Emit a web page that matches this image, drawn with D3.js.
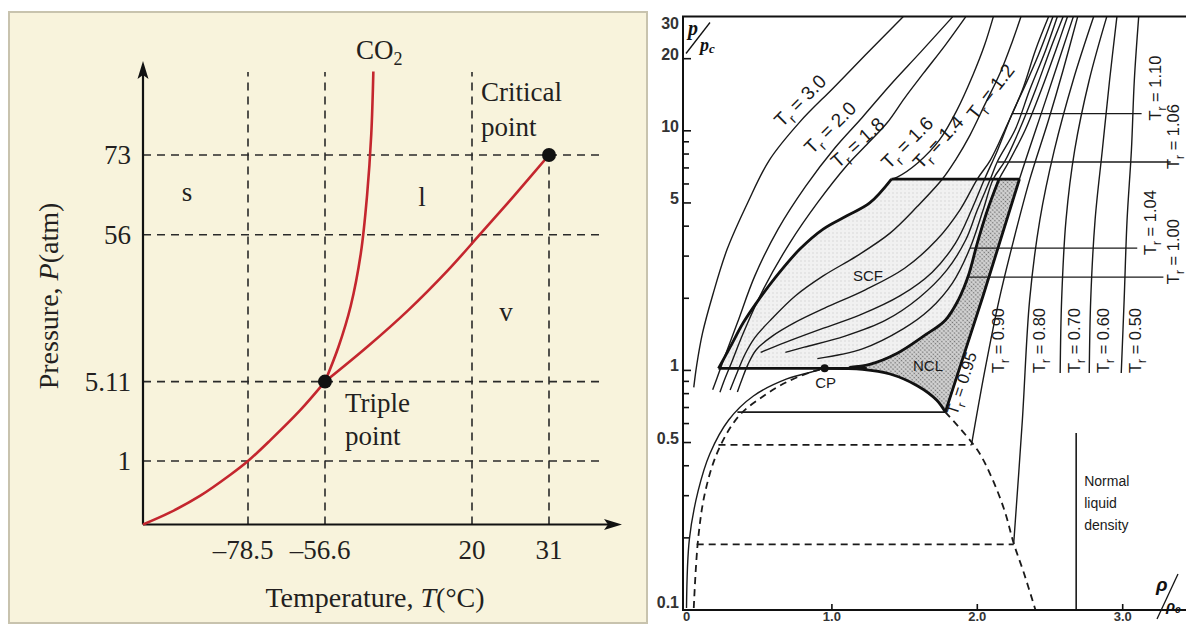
<!DOCTYPE html>
<html>
<head>
<meta charset="utf-8">
<script src="https://cdn.jsdelivr.net/npm/d3@7"></script>
<style>
  body { margin: 0; background: #fff; }
  svg { display: block; }
</style>
</head>
<body>
<div id="chart"></div>
<script>
// ---------- left panel: CO2 phase diagram (schematic axes) ----------
const tempTicks = [-78.5, -56.6, 20, 31];
const tempLabels = ["\u201378.5", "\u201356.6", "20", "31"];
const presTicks = [1, 5.11, 56, 73];
const presLabels = ["1", "5.11", "56", "73"];

const sublimT = [-120, -109.3, -97.5, -85.6, -78.5, -72.2, -63.7, -56.6];
const sublimP = [0, 0.19, 0.45, 0.78, 1, 2.07, 3.62, 5.11];
const meltT = [-56.6, -49.6, -43.2, -37.9, -34.7, -32.5, -31.4];
const meltP = [5.11, 17.1, 31.3, 49.7, 64.3, 76.7, 88.1];
const vapT = [-56.6, -34.7, -13.3, 7.9, 21.1, 26.0, 31];
const vapP = [5.11, 17.1, 29.8, 44.0, 56, 64.3, 73];
const triplePoint = [-56.6, 5.11];
const criticalPoint = [31, 73];

// ---------- right panel: reduced pressure vs reduced density ----------
const pLabelTicks = [0.1, 0.5, 1, 5, 10, 20, 30];
const pMajorTicks = [0.5, 1, 5, 10, 20];
const pMinorTicks = [0.2, 0.3, 0.4, 0.6, 0.7, 0.8, 0.9, 2, 3, 4, 6, 7, 8, 9];
const rhoTicks = [1, 2, 3];
const rhoLabelTicks = [0, 1, 2, 3];
const rhoLabels = ["0", "1.0", "2.0", "3.0"];

// isotherms as [rho/rho_c, p/p_c]
const tr30 = [[1.49,29.9],[1.23,20.7],[1.01,15.1],[0.78,10.9],[0.57,7.55],[0.42,5.0],[0.28,3.21],[0.18,2.06],[0.11,1.43],[0.07,1.05],[0.05,0.85]];
const tr20 = [[1.83,29.9],[1.61,21.3],[1.40,15.5],[1.21,11.4],[1.02,8.48],[0.82,5.88],[0.63,3.89],[0.47,2.48],[0.35,1.58],[0.26,1.13],[0.21,0.93],[0.18,0.83]];
const tr18 = [[1.92,29.9],[1.78,22.8],[1.63,17.4],[1.50,13.7],[1.38,10.8],[1.23,8.64],[1.10,7.13],[0.90,5.0],[0.71,3.40],[0.53,2.19],[0.39,1.43],[0.31,1.08],[0.26,0.91],[0.23,0.81]];
const tr16 = [[2.11,29.9],[2.05,22.8],[1.97,17.1],[1.86,12.2],[1.74,9.16],[1.59,7.34],[1.45,6.41],[1.41,6.29]];
const tr14 = [[2.30,29.9],[2.24,23.5],[2.16,17.6],[2.05,12.8],[1.95,9.60],[1.85,7.55],[1.76,6.29],[1.59,4.85],[1.40,3.74],[1.17,3.00],[0.94,2.48],[0.75,2.05],[0.59,1.65],[0.47,1.37],[0.40,1.16],[0.35,0.985],[0.30,0.828]];
const tr12 = [[2.49,29.9],[2.40,21.7],[2.31,14.8],[2.19,10.1],[2.09,7.55],[2.00,6.29],[1.88,4.67],[1.72,3.50],[1.50,2.67],[1.23,2.17],[0.95,1.82],[0.75,1.59],[0.59,1.39],[0.48,1.22],[0.42,1.05],[0.38,0.912],[0.35,0.813]];
const tr110 = [[2.52,29.9],[2.42,20.7],[2.33,15.5],[2.24,11.8],[2.14,8.32],[2.05,6.29],[1.96,4.67],[1.85,3.40],[1.69,2.57],[1.47,2.05],[1.19,1.70],[0.90,1.47],[0.68,1.31],[0.51,1.19]];
const tr106 = [[2.55,29.9],[2.47,21.7],[2.36,14.8],[2.26,10.1],[2.14,7.48],[2.09,6.29],[2.00,4.67],[1.92,3.50],[1.79,2.62],[1.60,2.01],[1.37,1.62],[1.09,1.39],[0.81,1.25],[0.68,1.19]];
const tr104 = [[2.59,29.9],[2.50,21.7],[2.40,14.8],[2.29,10.1],[2.19,7.48],[2.11,6.29],[2.04,4.67],[1.95,3.24],[1.83,2.32],[1.67,1.79],[1.49,1.49],[1.21,1.23],[0.90,1.12]];
const tr100 = [[2.62,29.9],[2.54,21.7],[2.44,14.8],[2.33,10.1],[2.22,7.48],[2.15,6.29],[2.07,4.67],[2.00,3.40],[1.94,2.50],[1.87,1.97],[1.78,1.62],[1.63,1.39],[1.45,1.18],[1.26,1.06],[1.12,1.03],[0.95,1.02],[0.86,0.985],[0.69,0.921],[0.46,0.782],[0.29,0.621],[0.16,0.448],[0.08,0.314],[0.02,0.198],[0.00,0.102]];
const tr095 = [[2.66,29.9],[2.47,13.4],[2.29,6.29],[2.04,2.05],[1.78,0.670]];
const tr090 = [[1.96,0.489],[2.05,0.985],[2.15,1.97],[2.25,3.50],[2.36,6.24],[2.49,11.1],[2.59,17.9],[2.69,29.9]];
const tr080 = [[2.25,0.188],[2.31,0.621],[2.36,1.97],[2.43,4.24],[2.53,8.32],[2.66,16.3],[2.80,29.9]];
const tr070 = [[2.57,0.975],[2.58,1.97],[2.61,4.24],[2.67,8.32],[2.77,16.3],[2.89,29.9]];
const tr060 = [[2.77,0.975],[2.78,1.97],[2.81,4.24],[2.86,8.32],[2.91,16.3],[2.96,29.9]];
const tr050 = [[2.99,0.975],[3.01,1.97],[3.03,4.24],[3.06,8.32],[3.08,16.3],[3.11,29.9]];

const domeVapor = [[0.05,0.102],[0.08,0.198],[0.13,0.314],[0.22,0.466],[0.36,0.645],[0.53,0.782],[0.69,0.895],[0.86,0.985],[0.95,1.02]];
const domeLiquid = [[1.78,0.670],[2.00,0.466],[2.10,0.356],[2.19,0.257],[2.25,0.190],[2.32,0.143],[2.40,0.100]];
const satLiquid = [[0.95,1.02],[1.21,1.01],[1.40,0.966],[1.59,0.861],[1.72,0.752],[1.78,0.670]];
const scfEdge = [[0.22,1.02],[0.30,1.25],[0.39,1.58],[0.48,1.91],[0.62,2.48],[0.78,3.21],[0.94,3.89],[1.10,4.41],[1.26,5.00],[1.41,6.29]];
const scfTopP = 6.29, scfBottomP = 1.02;
const criticalRP = [0.95, 1.02];
const normalLiquidRho = 2.68, normalLiquidTopP = 0.548;

// tie lines (p, rho vapour, rho liquid)
const tieP = [0.670, 0.489, 0.188];
const tieRhoV = [0.35, 0.22, 0.07];
const tieRhoL = [1.78, 1.96, 2.25];

// leader lines for the near-critical isotherms
const leaderLabels = ["1.10", "1.06", "1.04", "1.00"];
const leaderP = [11.8, 7.41, 3.24, 2.45];
const leaderFrom = [2.24, 2.14, 1.95, 1.94];
const leaderTo = [3.13, 3.33, 3.10, 3.28];

const subLabels = ["0.90", "0.80", "0.70", "0.60", "0.50"];

// ---------- drawing ----------
const W = 1186, H = 626;
const svg = d3.select("#chart").append("svg").attr("width", W).attr("height", H);
svg.append("rect").attr("width", W).attr("height", H).attr("fill", "#fff");

const serif = "'Liberation Serif', 'Times New Roman', serif";
const sans = "'Liberation Sans', Arial, sans-serif";
const ink = "#231f20";

// left panel background
const left = svg.append("g");
left.append("rect")
  .attr("x", 9).attr("y", 12).attr("width", 638).attr("height", 611)
  .attr("fill", "#f8f3dc").attr("stroke", "#c8c3ae").attr("stroke-width", 2);

const xT = d3.scaleLinear().domain([-120, -78.5, -56.6, 20, 31, 45]).range([143, 248, 325, 472, 549, 622]);
const yP = d3.scaleLinear().domain([0, 1, 5.11, 56, 73, 90]).range([524.5, 461, 381.6, 234.7, 155, 61]);

// dashed guide lines
left.selectAll(".vgrid")
  .data(tempTicks)
  .enter()
  .append("line")
  .attr("class", "vgrid")
  .attr("x1", d => xT(d)).attr("x2", d => xT(d))
  .attr("y1", yP(0)).attr("y2", d => d === 31 ? yP(73) : yP(88))
  .attr("stroke", "#2a2a2a").attr("stroke-width", 1.6).attr("stroke-dasharray", "8,6");

left.selectAll(".hgrid")
  .data(presTicks)
  .enter()
  .append("line")
  .attr("class", "hgrid")
  .attr("x1", xT(-120)).attr("x2", xT(41))
  .attr("y1", d => yP(d)).attr("y2", d => yP(d))
  .attr("stroke", "#2a2a2a").attr("stroke-width", 1.6).attr("stroke-dasharray", "8,6");

// axes with arrows
left.append("path")
  .attr("d", `M${xT(-120)},${yP(0)}V${yP(90) + 12}M${xT(-120)},${yP(0)}H${xT(45) - 12}`)
  .attr("stroke", "#111").attr("stroke-width", 2.2).attr("fill", "none");
const ax = xT(-120), ay = yP(90);
left.append("path")
  .attr("d", `M${ax},${ay}L${ax - 5.5},${ay + 18}L${ax},${ay + 14}L${ax + 5.5},${ay + 18}Z`)
  .attr("fill", "#111");
const bx = xT(45), by = yP(0);
left.append("path")
  .attr("d", `M${bx},${by}L${bx - 18},${by - 5.5}L${bx - 14},${by}L${bx - 18},${by + 5.5}Z`)
  .attr("fill", "#111");

// red phase boundaries
const lineTP = d3.line()
  .x(d => xT(d[0]))
  .y(d => yP(d[1]))
  .curve(d3.curveCatmullRom.alpha(0.5));

[d3.zip(sublimT, sublimP), d3.zip(meltT, meltP), d3.zip(vapT, vapP)].forEach(c => {
  left.append("path")
    .datum(c)
    .attr("d", lineTP)
    .attr("fill", "none")
    .attr("stroke", "#c4262e")
    .attr("stroke-width", 2.6);
});

left.selectAll(".pt")
  .data([triplePoint, criticalPoint])
  .enter()
  .append("circle")
  .attr("cx", d => xT(d[0])).attr("cy", d => yP(d[1]))
  .attr("r", 7).attr("fill", "#111");

// tick labels
left.selectAll(".xl")
  .data(tempTicks)
  .enter()
  .append("text")
  .attr("x", d => xT(d) + (d < 0 ? -5 : 0))
  .attr("y", yP(0) + 34.5)
  .attr("text-anchor", "middle")
  .attr("font-family", serif).attr("font-size", 27).attr("fill", ink)
  .text((d, i) => tempLabels[i]);

left.selectAll(".yl")
  .data(presTicks)
  .enter()
  .append("text")
  .attr("x", 131)
  .attr("y", d => yP(d))
  .attr("dy", "0.34em")
  .attr("text-anchor", "end")
  .attr("font-family", serif).attr("font-size", 27).attr("fill", ink)
  .text((d, i) => presLabels[i]);

// axis titles
const xt = left.append("text")
  .attr("x", 375).attr("y", 607)
  .attr("text-anchor", "middle")
  .attr("font-family", serif).attr("font-size", 28).attr("fill", ink);
xt.append("tspan").text("Temperature, ");
xt.append("tspan").attr("font-style", "italic").text("T");
xt.append("tspan").text("(\u00B0C)");

const yt = left.append("text")
  .attr("transform", "translate(58,296) rotate(-90)")
  .attr("text-anchor", "middle")
  .attr("font-family", serif).attr("font-size", 28).attr("fill", ink);
yt.append("tspan").text("Pressure, ");
yt.append("tspan").attr("font-style", "italic").text("P");
yt.append("tspan").text("(atm)");

// annotations
const co2 = left.append("text")
  .attr("x", xT(meltT[meltT.length - 1]) + 6)
  .attr("y", yP(meltP[meltP.length - 1]) - 13)
  .attr("text-anchor", "middle")
  .attr("font-family", serif).attr("font-size", 27).attr("fill", ink);
co2.append("tspan").text("CO");
co2.append("tspan").attr("font-size", 18).attr("dy", 6).text("2");

const annot = (txt, x, y, anchor) => left.append("text")
  .attr("x", x).attr("y", y)
  .attr("text-anchor", anchor || "start")
  .attr("font-family", serif).attr("font-size", 27).attr("fill", ink)
  .text(txt);

annot("Critical", xT(20) + 9, yP(criticalPoint[1]) - 54);
annot("point", xT(20) + 9, yP(criticalPoint[1]) - 19);
annot("Triple", xT(triplePoint[0]) + 20, yP(triplePoint[1]) + 30);
annot("point", xT(triplePoint[0]) + 20, yP(triplePoint[1]) + 63);
annot("s", 187, 201, "middle");
annot("l", 422, 206, "middle");
annot("v", 506, 321, "middle");

// ================= right panel =================
const right = svg.append("g");
const xR = d3.scaleLinear().domain([0, 3]).range([686.5, 1122.7]);
const yR = d3.scaleLog().domain([0.1, 30]).range([610, 16.5]);
const axisX = 683;

const defs = svg.append("defs");
const pScf = defs.append("pattern")
  .attr("id", "scfFill").attr("width", 4).attr("height", 4)
  .attr("patternUnits", "userSpaceOnUse");
pScf.append("rect").attr("width", 4).attr("height", 4).attr("fill", "#f1f1f1");
pScf.append("circle").attr("cx", 1).attr("cy", 1).attr("r", 0.7).attr("fill", "#d2d2d2");
const pNcl = defs.append("pattern")
  .attr("id", "nclFill").attr("width", 3).attr("height", 3)
  .attr("patternUnits", "userSpaceOnUse").attr("patternTransform", "rotate(45)");
pNcl.append("rect").attr("width", 3).attr("height", 3).attr("fill", "#d4d4d4");
pNcl.append("circle").attr("cx", 1.5).attr("cy", 1.5).attr("r", 0.85).attr("fill", "#6f6f6f");

const lineR = d3.line()
  .x(d => xR(d[0]))
  .y(d => yR(d[1]))
  .curve(d3.curveCatmullRom.alpha(0.5));
const polyR = d3.line().x(d => xR(d[0])).y(d => yR(d[1])).curve(d3.curveLinear);

// shaded regions
const scfPoly = scfEdge.concat(tr100.slice(5, 15));
right.append("path").datum(scfPoly).attr("d", d => polyR(d) + "Z").attr("fill", "url(#scfFill)");
const nclPoly = [[2.15, scfTopP], [2.29, scfTopP]]
  .concat(tr095.slice(3))
  .concat(satLiquid.slice(1, 5).reverse())
  .concat(tr100.slice(5, 14).reverse());
right.append("path").datum(nclPoly).attr("d", d => polyR(d) + "Z").attr("fill", "url(#nclFill)");

// isotherms
const isotherms = [tr30, tr20, tr18, tr16, tr14, tr12, tr110, tr106, tr104, tr100, tr095, tr090, tr080, tr070, tr060, tr050];
right.selectAll(".iso")
  .data(isotherms)
  .enter()
  .append("path")
  .attr("class", "iso")
  .attr("d", lineR)
  .attr("fill", "none")
  .attr("stroke", "#1a1a1a")
  .attr("stroke-width", 1.4);

// saturation dome (dashed)
[domeVapor, domeLiquid].forEach(c => {
  right.append("path").datum(c).attr("d", lineR)
    .attr("fill", "none").attr("stroke", "#1a1a1a")
    .attr("stroke-width", 1.8).attr("stroke-dasharray", "7,5");
});

// tie lines
right.selectAll(".tie")
  .data(tieP)
  .enter()
  .append("line")
  .attr("x1", (d, i) => xR(tieRhoV[i])).attr("x2", (d, i) => xR(tieRhoL[i]))
  .attr("y1", d => yR(d)).attr("y2", d => yR(d))
  .attr("stroke", "#1a1a1a")
  .attr("stroke-width", d => d > 0.6 ? 1.6 : 1.8)
  .attr("stroke-dasharray", d => d > 0.6 ? null : "7,5");

// thick outlines of SCF and NCL regions
const thick = (data, curve) => right.append("path").datum(data)
  .attr("d", curve || lineR)
  .attr("fill", "none").attr("stroke", "#111").attr("stroke-width", 2.8)
  .attr("stroke-linejoin", "round");
thick(scfEdge);
thick([[scfEdge[scfEdge.length - 1][0], scfTopP], [2.29, scfTopP]], polyR);
thick([[0.22, scfBottomP], [1.24, scfBottomP]], polyR);
thick(tr100.slice(5, 15));
thick(tr095.slice(2), polyR);
thick(satLiquid);

// critical point
right.append("circle")
  .attr("cx", xR(criticalRP[0])).attr("cy", yR(criticalRP[1]))
  .attr("r", 4).attr("fill", "#111");

// normal liquid density
right.append("line")
  .attr("x1", xR(normalLiquidRho)).attr("x2", xR(normalLiquidRho))
  .attr("y1", yR(0.1)).attr("y2", yR(normalLiquidTopP))
  .attr("stroke", "#1a1a1a").attr("stroke-width", 1.6);

// leader lines
right.selectAll(".leader")
  .data(leaderP)
  .enter()
  .append("line")
  .attr("x1", (d, i) => xR(leaderFrom[i])).attr("x2", (d, i) => xR(leaderTo[i]))
  .attr("y1", d => yR(d)).attr("y2", d => yR(d))
  .attr("stroke", "#1a1a1a").attr("stroke-width", 1.4);

// frame and axes
right.append("path")
  .attr("d", `M${W},${yR(30)}H${axisX}V${yR(0.1)}H${W}`)
  .attr("fill", "none").attr("stroke", "#111").attr("stroke-width", 2);

right.selectAll(".ytick")
  .data(pMajorTicks.concat(pMinorTicks))
  .enter()
  .append("line")
  .attr("x1", axisX).attr("x2", d => axisX + (pMajorTicks.includes(d) ? 8 : 6))
  .attr("y1", d => yR(d)).attr("y2", d => yR(d))
  .attr("stroke", "#111").attr("stroke-width", 1.6);

right.selectAll(".xtick")
  .data(rhoTicks)
  .enter()
  .append("line")
  .attr("x1", d => xR(d)).attr("x2", d => xR(d))
  .attr("y1", yR(0.1)).attr("y2", yR(0.1) - 6)
  .attr("stroke", "#111").attr("stroke-width", 1.6);

right.selectAll(".ylab")
  .data(pLabelTicks)
  .enter()
  .append("text")
  .attr("x", 679)
  .attr("y", d => yR(d) + (d === 30 ? 12 : d === 0.1 ? -2 : 1))
  .attr("text-anchor", "end")
  .attr("font-family", sans).attr("font-size", 16).attr("font-weight", "bold")
  .attr("fill", "#333")
  .text(d => d);

right.selectAll(".xlab")
  .data(rhoLabelTicks)
  .enter()
  .append("text")
  .attr("x", d => xR(d))
  .attr("y", 621)
  .attr("text-anchor", "middle")
  .attr("font-family", sans).attr("font-size", 13).attr("font-weight", "bold")
  .attr("fill", "#333")
  .text((d, i) => rhoLabels[i]);

// axis symbols
const pSym = right.append("g").attr("font-family", serif).attr("font-style", "italic")
  .attr("font-weight", "bold").attr("fill", "#111");
pSym.append("text").attr("x", axisX + 5).attr("y", yR(30) + 18).attr("font-size", 20).text("p");
pSym.append("line").attr("x1", axisX + 3).attr("y1", yR(30) + 37).attr("x2", axisX + 27).attr("y2", yR(30) + 6)
  .attr("stroke", "#111").attr("stroke-width", 1.3);
const pc = pSym.append("text").attr("x", axisX + 17).attr("y", yR(30) + 34).attr("font-size", 18);
pc.append("tspan").text("p");
pc.append("tspan").attr("font-size", 13).attr("dy", 2).text("c");

const rSym = right.append("g").attr("font-family", sans).attr("font-style", "italic")
  .attr("font-weight", "bold").attr("fill", "#111");
rSym.append("text").attr("x", 1156).attr("y", yR(0.1) - 19).attr("font-size", 19).text("\u03C1");
rSym.append("line").attr("x1", 1157).attr("y1", yR(0.1) + 9).attr("x2", 1178).attr("y2", yR(0.1) - 36)
  .attr("stroke", "#111").attr("stroke-width", 1.3);
const rc = rSym.append("text").attr("x", 1166).attr("y", yR(0.1) + 1).attr("font-size", 15);
rc.append("tspan").text("\u03C1");
rc.append("tspan").attr("font-size", 10).attr("dy", 2).text("c");

// region labels
const rtext = (txt, x, y, size) => right.append("text")
  .attr("x", x).attr("y", y).attr("text-anchor", "middle")
  .attr("font-family", sans).attr("font-size", size || 15).attr("fill", "#1a1a1a")
  .text(txt);
rtext("SCF", 868, 281);
rtext("NCL", 928, 371);
rtext("CP", xR(criticalRP[0]) + 1, yR(criticalRP[1]) + 20);
["Normal", "liquid", "density"].forEach((w, i) => {
  right.append("text")
    .attr("x", xR(normalLiquidRho) + 8).attr("y", 486 + i * 22)
    .attr("font-family", sans).attr("font-size", 14).attr("fill", "#1a1a1a")
    .text(w);
});

// isotherm labels
function trLabel(x, y, angle, value, size) {
  const t = right.append("text")
    .attr("transform", `translate(${x},${y}) rotate(${angle})`)
    .attr("font-family", sans).attr("font-size", size).attr("fill", "#1a1a1a");
  t.append("tspan").text("T");
  t.append("tspan").attr("font-size", size * 0.72).attr("dy", size * 0.3).text("r");
  t.append("tspan").attr("dy", -size * 0.3).text(" = " + value);
  return t;
}
trLabel(782, 128, -45, "3.0", 19);
trLabel(812, 155, -45, "2.0", 19);
trLabel(838, 169, -42, "1.8", 19);
trLabel(889, 170, -45, "1.6", 19);
trLabel(921, 170, -47, "1.4", 19);
trLabel(976, 121, -52, "1.2", 19);
trLabel(957, 416, -72, "0.95", 16.5);

// vertical labels for the subcritical liquid lines
function rhoAt(curve, p) {
  for (let i = 0; i < curve.length - 1; i++) {
    const a = curve[i], b = curve[i + 1];
    const lo = Math.min(a[1], b[1]), hi = Math.max(a[1], b[1]);
    if (p >= lo && p <= hi) {
      const t = (Math.log(p) - Math.log(a[1])) / (Math.log(b[1]) - Math.log(a[1]));
      return a[0] + t * (b[0] - a[0]);
    }
  }
  return curve[0][0];
}
[tr090, tr080, tr070, tr060, tr050].forEach((c, i) => {
  trLabel(xR(rhoAt(c, 0.98)) + 20, 373, -90, subLabels[i], 16.5);
});
leaderLabels.forEach((v, i) => {
  trLabel(Math.min(xR(leaderTo[i]) + 19, 1179), yR(leaderP[i]) + 7, -90, v, 16.5);
});
</script>
</body>
</html>
